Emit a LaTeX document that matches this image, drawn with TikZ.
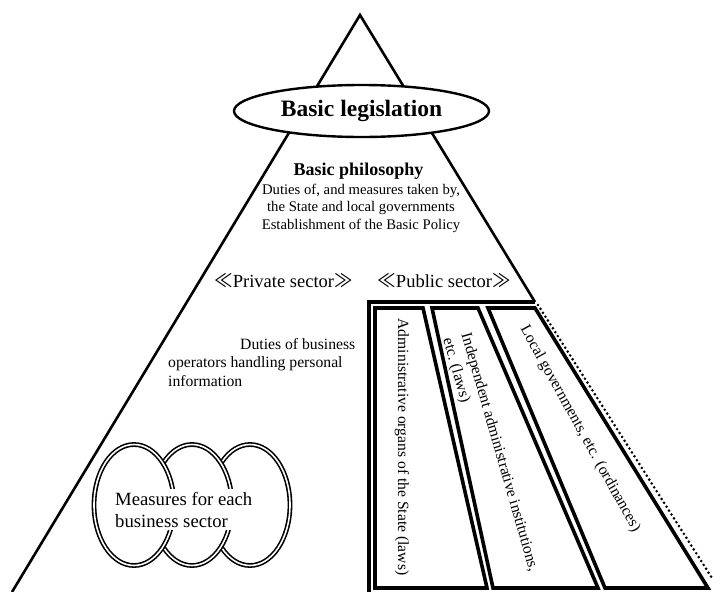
\documentclass[tikz,border=0pt]{standalone}
\usepackage{fontspec}
\setmainfont{Liberation Serif}
\newfontfamily\cjkfont{Noto Sans CJK JP}
\usetikzlibrary{shapes.geometric}
\begin{document}
\begin{tikzpicture}[x=1pt,y=-1pt,
  outline/.style={line width=2.6pt, line join=miter},
  frame/.style={line width=4.5pt, line join=miter},
  panel/.style={line width=3.6pt, line join=miter},
  loop/.style={ellipse, draw, fill=white, line width=1.6pt, double=white,
    double distance=1.6pt, minimum width=80pt, minimum height=121pt, inner sep=0pt},
  lbl/.style={inner sep=0pt, font=\fontsize{15.7}{18.3}\selectfont},
  vlbl/.style={inner sep=0pt, font=\fontsize{15.6}{19}\selectfont, align=left},
  sector/.style={inner sep=0pt, anchor=base, font=\fontsize{18.5}{22}\selectfont}
]
\useasboundingbox (0,0) rectangle (713,592);

% outline of the pyramid
\coordinate (apex) at (360,15);
\coordinate (baseL) at (12,592);
\coordinate (corner) at (535,302);
\draw[outline] (baseL) -- (apex) -- (corner);

% top: basic legislation
\node[ellipse, draw, line width=2.4pt, fill=white, minimum width=255pt,
  minimum height=52pt, inner sep=0pt,
  font=\fontsize{23.5}{28}\selectfont\bfseries] (legis) at (361.5,111) {Basic legislation};

\node[inner sep=0pt, anchor=base, font=\fontsize{18}{21}\selectfont\bfseries]
  (philo) at (358.5,175) {Basic philosophy};
% the base anchor of a multi-line node sits on its last line
\node[inner sep=0pt, anchor=base, align=center, font=\fontsize{14.7}{17.5}\selectfont]
  (duties) at (361,229) {Duties of, and measures taken by,\\the State and local governments\\Establishment of the Basic Policy};

% sector headings
\node[sector] (private) at (283.5,287) {{\cjkfont ≪}Private sector{\cjkfont ≫}};
\node[sector] (public) at (444,287) {{\cjkfont ≪}Public sector{\cjkfont ≫}};

% private sector
\node[lbl, anchor=base west, align=left] (business) at (168,386)
  {\hspace*{72pt}Duties of business\\operators handling personal\\information};

\node[loop] (loopR) at (250,505) {};
\node[loop] (loopM) at (192,505) {};
\node[loop] (loopL) at (134,505) {};
\node[fill=white, inner sep=3pt, align=left, anchor=base west,
  font=\fontsize{18.7}{21.7}\selectfont] (sectors) at (112,527)
  {Measures for each\\business sector};

% public sector
\draw[frame] (corner) -- (369,302) -- (369,594);
\draw[panel] (375,308) -- (423,308) -- (487,588) -- (375,588) -- cycle;
\draw[panel] (432,308) -- (478,308) -- (598,588) -- (493,588) -- cycle;
\draw[panel] (488,308) -- (535,308) -- (708,588) -- (605,588) -- cycle;
\coordinate (dotA) at (538,305);
\coordinate (dotB) at (712,578);
\draw[line width=2.9pt, line cap=round, dash pattern=on 0pt off 4.6pt] (dotA) -- (dotB);

\node[vlbl, rotate=-90] (state) at (402,447) {Administrative organs of the State (laws)};
\node[vlbl, rotate=-74] (indep) at (490,455) {Independent administrative institutions,\\etc. (laws)};
\node[vlbl, rotate=-61] (local) at (580,429) {Local governments, etc. (ordinances)};
\end{tikzpicture}
\end{document}
